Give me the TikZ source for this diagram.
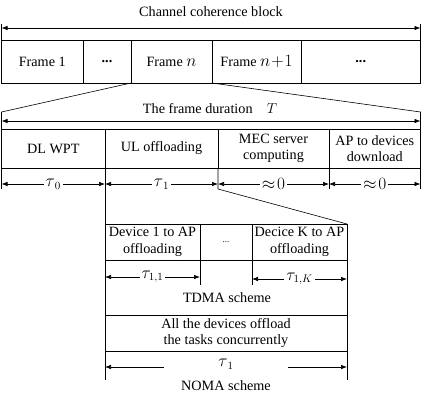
\documentclass[tikz,border=0pt]{standalone}
\usepackage{fontspec}
\setmainfont{Liberation Serif}
\usetikzlibrary{arrows.meta,positioning}

\begin{document}
\begin{tikzpicture}[
        x=1pt, y=-1pt,
        txt/.style={font=\fontsize{14.2}{16.5}\selectfont, inner sep=1pt},
        cell/.style={txt, draw, line width=1pt, outer sep=0pt, align=center},
        blockcell/.style={cell, minimum height=43pt},
        framecell/.style={cell, minimum height=39pt},
        devcell/.style={cell, minimum height=36pt},
        span/.style={{Latex[length=6pt,width=4.5pt]}-{Latex[length=6pt,width=4.5pt]}, line width=0.6pt},
        guide/.style={line width=0.6pt},
        lbl/.style={txt, fill=white, inner sep=2pt, font=\fontsize{16}{17}\selectfont}
    ]
        \useasboundingbox (0,0) rectangle (423,400);

        % channel coherence block
        \node[blockcell, anchor=north west, minimum width=81.5pt] (fr1) at (1.5,40) {Frame 1};
        \node[blockcell, right=0pt of fr1, minimum width=48pt] (frdots) {\textbf{...}};
        \node[blockcell, right=0pt of frdots, minimum width=81pt] (frn) {Frame {\fontsize{17}{17}\selectfont$n$}};
        \node[blockcell, right=0pt of frn, minimum width=89pt] (frnext) {Frame {\fontsize{17}{17}\selectfont$n\!+\!1$}};
        \node[blockcell, right=0pt of frnext, minimum width=119.5pt] (frrest) {\textbf{...}};
        \node[txt] (cbtitle) at (211,12) {Channel coherence block};

        \coordinate[above=16pt of fr1.north west] (cbL);
        \coordinate[above=16pt of frrest.north east] (cbR);
        \coordinate[above=12pt of fr1.north west] (cbA);
        \coordinate[above=12pt of frrest.north east] (cbB);
        \draw[guide] (fr1.north west) -- (cbL);
        \draw[guide] (frrest.north east) -- (cbR);
        \draw[span] (cbA) -- (cbB);

        % one frame
        \node[framecell, anchor=north west, minimum width=103.5pt] (wpt) at (1.5,129) {DL WPT};
        \node[framecell, right=0pt of wpt, minimum width=113pt] (ul) {UL offloading};
        \node[framecell, right=0pt of ul, minimum width=111pt] (mec) {MEC server\\computing};
        \node[framecell, right=0pt of mec, minimum width=91.5pt] (dl) {AP to devices\\download};
        \node[txt] (fdtitle) at (210,109) {The frame duration\quad $T$};

        \coordinate[above=17pt of wpt.north west] (fdL);
        \coordinate[above=17pt of dl.north east] (fdR);
        \coordinate[above=8pt of wpt.north west] (fdA);
        \coordinate[above=8pt of dl.north east] (fdB);
        \draw[guide] (frn.south west) -- (fdL) -- (wpt.north west);
        \draw[guide] (frn.south east) -- (fdR) -- (dl.north east);
        \draw[span] (fdA) -- (fdB);

        % durations of the phases
        \coordinate[below=21pt of wpt.south west] (wptend);
        \coordinate[below=21pt of mec.south west] (mecend);
        \coordinate[below=21pt of dl.south west] (dlend);
        \coordinate[below=21pt of dl.south east] (endend);
        \coordinate[below=16pt of wpt.south west] (a0);
        \coordinate[below=16pt of ul.south west] (a1);
        \coordinate[below=16pt of mec.south west] (a2);
        \coordinate[below=16pt of dl.south west] (a3);
        \coordinate[below=16pt of dl.south east] (a4);
        \draw[guide] (wpt.south west) -- (wptend);
        \draw[guide] (dl.south west) -- (dlend);
        \draw[guide] (dl.south east) -- (endend);
        \draw[span] (a0) -- node[lbl] (tau0) {$\tau_{\,0}$} (a1);
        \draw[span] (a1) -- node[lbl] (tau1) {$\tau_{\,1}$} (a2);
        \draw[span] (a2) -- node[lbl] (mecz) {$\approx\!0$} (a3);
        \draw[span] (a3) -- node[lbl] (dlz) {$\approx\!0$} (a4);

        % TDMA scheme
        \node[devcell, anchor=north west, minimum width=95pt] (dev1) at (105,224) {Device 1 to AP\\offloading};
        \node[devcell, right=0pt of dev1, minimum width=52pt] (devdots) {\fontsize{9}{10}\selectfont ...};
        \node[devcell, right=0pt of devdots, minimum width=95pt] (devK) {Decice K to AP\\offloading};
        \node[txt] (tdma) at (227,298) {TDMA scheme};

        \draw[guide] (mec.south west) -- (mecend) -- (devK.north east);
        \coordinate[below=25pt of dev1.south east] (dev1end);
        \coordinate[below=25pt of devK.south west] (devKend);
        \coordinate[below=17pt of dev1.south west] (b0);
        \coordinate[below=17pt of dev1.south east] (b1);
        \coordinate[below=19pt of devK.south west] (b2);
        \coordinate[below=19pt of devK.south east] (b3);
        \draw[guide] (dev1.south east) -- (dev1end);
        \draw[guide] (devK.south west) -- (devKend);
        \draw[span] (b0) -- node[lbl] (tau11) {$\tau_{1,1}$} (b1);
        \draw[span] (b2) -- node[lbl] (tau1K) {$\tau_{1,K}$} (b3);

        % NOMA scheme
        \node[devcell, anchor=north west, minimum width=242pt] (noma) at (105,315) {All the devices offload\\the tasks concurrently};
        \node[txt] (nomatxt) at (226,386) {NOMA scheme};

        \coordinate[below=29pt of noma.south west] (nomaL);
        \coordinate[below=29pt of noma.south east] (nomaR);
        \coordinate[below=16pt of noma.south west] (c0);
        \coordinate[below=16pt of noma.south east] (c1);
        \draw[guide] (ul.south west) -- (nomaL);
        \draw[guide] (devK.north east) -- (nomaR);
        \draw[span] (c0) -- node[lbl, minimum width=124pt, yshift=3pt] (tau1n) {$\tau_{\,1}$} (c1);
    \end{tikzpicture}
\end{document}
